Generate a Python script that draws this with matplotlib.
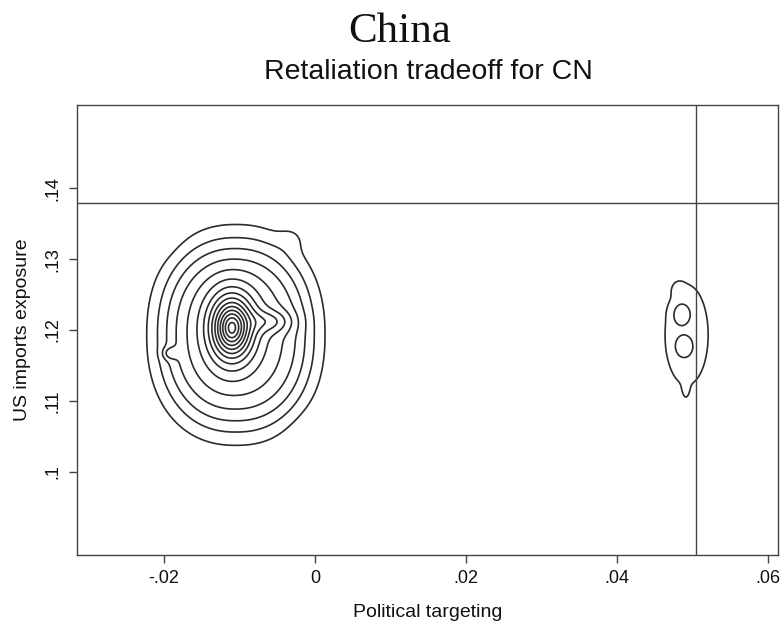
import numpy as np
import matplotlib
matplotlib.use("Agg")
import matplotlib.pyplot as plt

# ---- chart data ----
title = "China"
subtitle = "Retaliation tradeoff for CN"
x_label = "Political targeting"
y_label = "US imports exposure"
x_ticks = [-0.02, 0.0, 0.02, 0.04, 0.06]
x_tick_labels = ["-.02", "0", ".02", ".04", ".06"]
y_ticks = [0.10, 0.11, 0.12, 0.13, 0.14]
y_tick_labels = [".1", ".11", ".12", ".13", ".14"]
x_range = [-0.0315, 0.0613]
y_range = [0.0882, 0.1518]
x_ref = 0.0505   # vertical reference line
y_ref = 0.138    # horizontal reference line

# density surface (estimated from the contour picture)
# flat-topped main mass
plateau_center = (-0.01047, 0.1193)
plateau_radius = (0.0118, 0.0156)
plateau_height = 5.6
plateau_shape = 2.25     # super-ellipse exponent
plateau_edge = 4.0       # radial steepness
# bumps: centre x, centre y, spread x, spread y, weight, flatness
bump_x = [-0.0110, -0.0058, -0.0192, -0.0030, -0.0219, 0.0013,
          0.0492, 0.0485, 0.04883, 0.0491, 0.0480]
bump_y = [0.1203, 0.1212, 0.1167, 0.1330, 0.1344, 0.1035,
          0.1193, 0.12225, 0.11766, 0.1118, 0.1258]
bump_sx = [0.0018, 0.0020, 0.0007, 0.0013, 0.0022, 0.0026,
           0.0029, 0.00109, 0.00109, 0.0003, 0.0006]
bump_sy = [0.00290, 0.0011, 0.0006, 0.0013, 0.0022, 0.0026,
           0.0072, 0.00145, 0.00145, 0.0010, 0.0008]
bump_w = [10.0, 1.8, 1.5, 0.6, -0.8, -1.0,
          1.4, 0.9, 0.9, 0.6, 0.4]
bump_p = [0.8, 1.0, 1.0, 1.0, 1.0, 1.0,
          1.5, 2.0, 2.0, 1.0, 1.0]
contour_levels = list(range(1, 16))

# ---- build surface ----
gx = np.linspace(x_range[0], x_range[1], 700)
gy = np.linspace(y_range[0], y_range[1], 600)
X, Y = np.meshgrid(gx, gy)
u = np.abs((X - plateau_center[0]) / plateau_radius[0])
v = np.abs((Y - plateau_center[1]) / plateau_radius[1])
r = (u ** plateau_shape + v ** plateau_shape) ** (1 / plateau_shape)
Z = plateau_height * np.exp(-np.log(plateau_height) * r ** plateau_edge)
for bx, by, sx, sy, w, p in zip(bump_x, bump_y, bump_sx, bump_sy, bump_w, bump_p):
    h = 0.5 * (((X - bx) / sx) ** 2 + ((Y - by) / sy) ** 2)
    Z += w * np.exp(-h ** p)

# ---- figure ----
W, H = 783, 624
fig = plt.figure(figsize=(W / 100, H / 100), dpi=100)
fig.patch.set_facecolor("white")
ax = fig.add_axes([77 / W, 1 - 555 / H, (778 - 77) / W, (555 - 105) / H])

line_col = "#2b2b2b"
ax.contour(X, Y, Z, levels=contour_levels, colors=line_col, linewidths=1.2)
ax.axvline(x_ref, color="#444444", lw=1.0)
ax.axhline(y_ref, color="#444444", lw=1.0)

ax.set_xlim(*x_range)
ax.set_ylim(*y_range)
ax.set_xticks(x_ticks)
ax.set_xticklabels(x_tick_labels)
ax.set_yticks(y_ticks)
ax.set_yticklabels(y_tick_labels, rotation=90, va="center")
sans = "Liberation Sans"
for lab in ax.get_xticklabels() + ax.get_yticklabels():
    lab.set_fontfamily(sans)
    lab.set_fontsize(13)
    lab.set_color("#111111")
ax.tick_params(direction="out", length=6, width=1.0, color="#444444", pad=5)
for s in ax.spines.values():
    s.set_color("#444444")
    s.set_linewidth(1.0)

ax.set_xlabel(x_label, fontfamily=sans, fontsize=14, color="#111111", labelpad=12)
ax.set_ylabel(y_label, fontfamily=sans, fontsize=14, color="#111111", labelpad=10)

fig.text(400 / W, 1 - 32 / H, title, ha="center", va="center",
         fontfamily="Liberation Serif", fontsize=31, color="#111111")
fig.text(428 / W, 1 - 72 / H, subtitle, ha="center", va="center",
         fontfamily=sans, fontsize=20.5, color="#111111")

fig.savefig("out.png", dpi=100)
